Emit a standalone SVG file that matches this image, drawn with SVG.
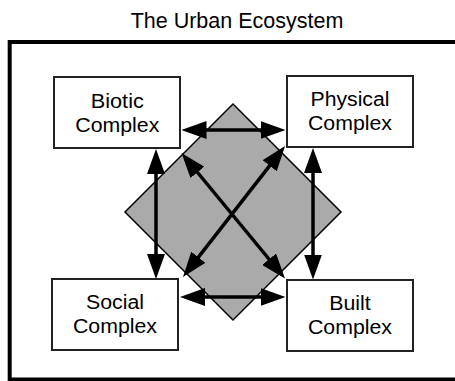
<svg xmlns="http://www.w3.org/2000/svg" width="455" height="381" viewBox="0 0 455 381">
<defs>
<marker id="ah" markerUnits="userSpaceOnUse" markerWidth="25" markerHeight="18" refX="3" refY="9" orient="auto-start-reverse" viewBox="0 0 25 18">
<path d="M0,0 L25,9 L0,18 Z" fill="#000"/>
</marker>
<style>
text{font-family:"Liberation Sans",Arial,sans-serif;fill:#000;text-anchor:middle}
.t{font-size:21.5px}
.n{font-size:19.5px}
.box{fill:#fff;stroke:#222;stroke-width:2}
.c{stroke:#000;stroke-width:3.5;fill:none;marker-start:url(#ah);marker-end:url(#ah)}
</style>
</defs>
<text class="t" x="237" y="27.7">The Urban Ecosystem</text>
<rect x="9.7" y="42" width="455" height="337.5" fill="#fff" stroke="#000" stroke-width="4"/>
<polygon id="diamond" points="233,104 341,212 233,320 125,212" fill="#aaa" stroke="#000" stroke-width="1.5"/>
<g id="connectors">
<line class="c" x1="203.5" y1="130" x2="263.5" y2="130"/>
<line class="c" x1="202" y1="297" x2="263.5" y2="297"/>
<line class="c" x1="156" y1="171" x2="156" y2="257"/>
<line class="c" x1="313" y1="170" x2="313" y2="257.5"/>
<line class="c" x1="195.5" y1="170" x2="271" y2="261.5"/>
<line class="c" x1="271.5" y1="163.4" x2="196.5" y2="259.6"/>
</g>
<g id="biotic">
<rect class="box" x="54" y="77" width="126" height="71"/>
<text class="n" x="117.3" y="108.3" textLength="53" lengthAdjust="spacingAndGlyphs">Biotic</text>
<text class="n" x="117.3" y="131.7" textLength="84" lengthAdjust="spacingAndGlyphs">Complex</text>
</g>
<g id="physical">
<rect class="box" x="287" y="76" width="126" height="71"/>
<text class="n" x="350" y="106" textLength="79" lengthAdjust="spacingAndGlyphs">Physical</text>
<text class="n" x="350" y="130" textLength="84" lengthAdjust="spacingAndGlyphs">Complex</text>
</g>
<g id="social">
<rect class="box" x="52" y="279" width="126" height="71"/>
<text class="n" x="115" y="309.3" textLength="58" lengthAdjust="spacingAndGlyphs">Social</text>
<text class="n" x="115" y="333.3" textLength="84" lengthAdjust="spacingAndGlyphs">Complex</text>
</g>
<g id="built">
<rect class="box" x="287" y="280" width="126" height="71"/>
<text class="n" x="350" y="310" textLength="41.5" lengthAdjust="spacingAndGlyphs">Built</text>
<text class="n" x="350" y="334.3" textLength="84" lengthAdjust="spacingAndGlyphs">Complex</text>
</g>
</svg>
